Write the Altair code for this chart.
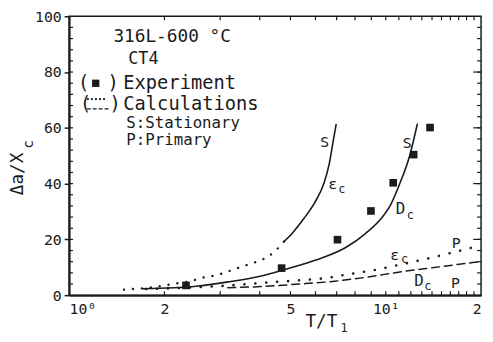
import altair as alt
import pandas as pd

FONT = "DejaVu Sans Mono"
INK = "#1b1b1b"

# ---- axis ticks -------------------------------------------------------
x_ticks = [1, 2, 5, 10, 20]
x_tick_labels = ["10⁰", "2", "5", "10¹", "2"]
y_ticks = [0, 20, 40, 60, 80, 100]
x_minor = list(range(2, 20))
y_minor = list(range(4, 100, 4))
y_major_inner = [20, 40, 60, 80]

# ---- experiment (squares) ---------------------------------------------
exp_T = [2.34, 4.69, 7.04, 8.98, 10.56, 12.25, 13.8]
exp_y = [3.5, 9.7, 19.9, 30.2, 40.3, 50.4, 60.1]

# ---- calculations -----------------------------------------------------
# eps_c, stationary : dotted part then solid part
epsS_dot_T = [1.49, 1.85, 2.15, 2.43, 2.67, 2.87, 3.09, 3.32, 3.62, 3.89, 4.24, 4.50, 4.77]
epsS_dot_y = [2.0, 2.9, 4.1, 5.1, 6.4, 7.0, 8.0, 9.3, 10.7, 11.9, 13.8, 16.1, 19.2]
epsS_sol_T = [4.77, 5.10, 5.49, 5.96, 6.38, 6.63, 6.80, 6.97]
epsS_sol_y = [19.2, 22.6, 27.2, 33.1, 40.1, 47.1, 54.2, 61.2]

# D_c, stationary (solid)
DS_T = [1.71, 2.52, 3.19, 4.08, 5.18, 6.31, 7.45, 8.63, 9.64, 10.37, 11.03, 11.9, 12.58]
DS_y = [2.3, 3.2, 4.8, 7.0, 10.3, 13.4, 17.0, 22.1, 27.3, 32.5, 39.5, 50.0, 61.3]

# eps_c, primary (dotted)
epsP_T = [1.75, 3.12, 4.17, 5.29, 6.42, 7.53, 9.49, 11.7, 14.0, 16.4, 19.7]
epsP_y = [2.2, 3.4, 4.5, 5.3, 6.1, 7.4, 9.3, 11.5, 13.5, 15.4, 17.7]

# D_c, primary (dashed)
DP_T = [3.17, 4.08, 5.17, 6.90, 8.75, 11.2, 14.2, 19.7]
DP_y = [2.7, 3.1, 3.9, 5.0, 6.5, 8.4, 9.9, 12.0]

# ---- curve labels -----------------------------------------------------
lab_text = ["S", "ε", "c", "S", "D", "c", "P", "ε", "c", "D", "c", "P"]
lab_T = [6.42, 6.80, 7.26, 11.68, 11.14, 11.96, 16.7, 10.67, 11.47, 12.73, 13.57, 16.6]
lab_y = [54.9, 39.7, 38.2, 54.7, 30.7, 28.8, 18.6, 14.5, 13.0, 5.1, 3.3, 4.5]
lab_size = [15, 15, 12, 15, 16, 12, 15, 15, 12, 16, 12, 15]

W, H = 418, 283

xscale = alt.Scale(type="log", domain=[1, 20], nice=False)
yscale = alt.Scale(domain=[0, 100], nice=False)

expr = "''"
for v, t in reversed(list(zip(x_ticks, x_tick_labels))):
    expr = f"datum.value == {v} ? '{t}' : ({expr})"

xaxis = alt.Axis(values=x_ticks, labelExpr=expr, ticks=False, grid=False,
                 domainColor=INK, domainWidth=2, labelFont=FONT, labelFontSize=15,
                 labelColor=INK, labelPadding=7, title=None, labelFlush=True)
yaxis = alt.Axis(values=y_ticks, tickSize=5, tickColor=INK, tickWidth=1.5, grid=False,
                 domainColor=INK, domainWidth=2, labelFont=FONT, labelFontSize=15,
                 labelColor=INK, labelPadding=3, title=None, format="d")

X = alt.X("T:Q", scale=xscale, axis=xaxis)
Y = alt.Y("y:Q", scale=yscale, axis=yaxis)


def curve(T, y, width=1.6, dash=None):
    kw = dict(interpolate="monotone", color=INK, strokeWidth=width, strokeCap="round")
    if dash is not None:
        kw["strokeDash"] = dash
    return alt.Chart(pd.DataFrame({"T": T, "y": y})).mark_line(**kw).encode(x=X, y=Y)


squares = alt.Chart(pd.DataFrame({"T": exp_T, "y": exp_y})).mark_square(
    size=60, color=INK, opacity=1).encode(x=X, y=Y)

layers = [
    curve(epsS_dot_T, epsS_dot_y, width=2.4, dash=[0.1, 9]),
    curve(epsS_sol_T, epsS_sol_y),
    curve(DS_T, DS_y),
    curve(epsP_T, epsP_y, width=2.6, dash=[0.1, 11]),
    curve(DP_T, DP_y, width=1.5, dash=[8, 5]),
    squares,
]

labels_df = pd.DataFrame({"T": lab_T, "y": lab_y, "txt": lab_text, "sz": lab_size})
layers.append(alt.Chart(labels_df).mark_text(font=FONT, color=INK, baseline="middle").encode(
    x=X, y=Y, text="txt:N", size=alt.Size("sz:Q", scale=None, legend=None)))

# inner ticks
bottom_df = pd.DataFrame({"T": x_minor})
layers.append(alt.Chart(bottom_df).mark_rule(color=INK, strokeWidth=1.2).encode(
    x=X, y=alt.value(H), y2=alt.value(H - 4)))
layers.append(alt.Chart(bottom_df).mark_rule(color=INK, strokeWidth=1.2).encode(
    x=X, y=alt.value(0), y2=alt.value(4)))
left_df = pd.DataFrame({"y": y_minor})
layers.append(alt.Chart(left_df).mark_rule(color=INK, strokeWidth=1.2).encode(
    y=Y, x=alt.value(0), x2=alt.value(4)))
layers.append(alt.Chart(left_df).mark_rule(color=INK, strokeWidth=1.2).encode(
    y=Y, x=alt.value(W), x2=alt.value(W - 4)))
layers.append(alt.Chart(pd.DataFrame({"y": y_major_inner})).mark_rule(color=INK, strokeWidth=1.2).encode(
    y=Y, x=alt.value(W), x2=alt.value(W - 8)))

dummy = pd.DataFrame({"a": [0]})


def note(text, px, py, size=16, align="left", angle=0):
    return alt.Chart(dummy).mark_text(text=text, font=FONT, fontSize=size, color=INK,
                                      align=align, baseline="middle", angle=angle).encode(
        x=alt.value(px), y=alt.value(py))


layers += [
    note("316L-600 °C", 45, 21, 18),
    note("CT4", 60, 43, 17),
    note("(", 9, 68, 19),
    note(")", 39, 68, 19),
    note("Experiment", 55, 68, 19),
    note("(", 11, 89, 19),
    note(")", 41, 89, 19),
    note("Calculations", 55, 89, 19),
    note("S:Stationary", 58, 108, 16),
    note("P:Primary", 58, 126, 16),
    note("T/T", 256, 310, 18, align="center"),
    note("1", 279, 316, 12, align="center"),
    note("Δa/X", -52, 160, 18, align="center", angle=270),
    note("c", -41, 130, 14, align="center", angle=270),
]
layers.append(alt.Chart(dummy).mark_square(size=55, color=INK, opacity=1).encode(
    x=alt.value(27), y=alt.value(68)))
layers.append(alt.Chart(dummy).mark_rule(color=INK, strokeWidth=2.2, strokeCap="round",
                                         strokeDash=[0.1, 4]).encode(
    x=alt.value(19), x2=alt.value(37), y=alt.value(84)))
layers.append(alt.Chart(dummy).mark_rule(color=INK, strokeWidth=1.3, strokeDash=[4, 2]).encode(
    x=alt.value(18), x2=alt.value(40), y=alt.value(94)))

chart = alt.layer(*layers).properties(
    width=W, height=H,
    autosize=alt.AutoSizeParams(type="none"),
    padding={"left": 62, "top": 6, "right": 4, "bottom": 37},
    background="white",
).configure_view(stroke=INK, strokeWidth=1.5)

chart.save("out.html", embed_options={"renderer": "svg", "actions": False})
